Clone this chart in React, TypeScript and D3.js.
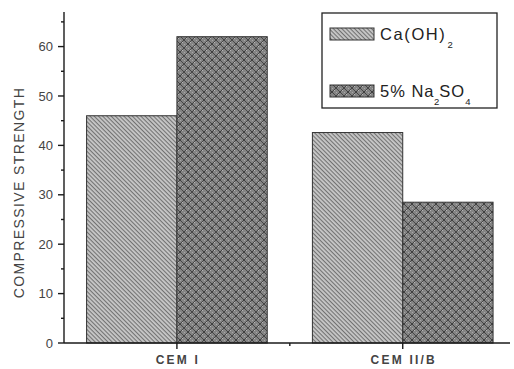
import React from "react";
import * as d3 from "d3";

// Cement types on the x axis
const categories = ["CEM I", "CEM II/B"];
// Compressive strength per series
const caOH2Values = [46, 42.6];
const na2so4Values = [62, 28.5];
// Y axis ticks
const yMajorTicks = [0, 10, 20, 30, 40, 50, 60];
const yMinorTicks = [5, 15, 25, 35, 45, 55, 65];

const W = 514;
const H = 369;

export default function App() {
  const y = d3.scaleLinear().domain([0, 67]).range([343, 12]);
  const x = d3.scaleLinear().domain([0.5, 2.475]).range([64, 510]);
  const barW = 0.4;
  const font = "'Liberation Sans', Arial, sans-serif";
  const textColor = "#444";

  return (
    <svg
      width={W}
      height={H}
      style={{ position: "absolute", left: 0, top: 0, background: "#fff" }}
    >
      <defs>
        <pattern
          id="hatch"
          width="3"
          height="3"
          patternUnits="userSpaceOnUse"
          patternTransform="rotate(45)"
        >
          <rect width="3" height="3" fill="#c8c8c8" />
          <rect width="3" height="1.1" fill="#727272" />
        </pattern>
        <pattern id="cross" width="8" height="8" patternUnits="userSpaceOnUse">
          <rect width="8" height="8" fill="#848484" />
          <rect x="0" y="0" width="1" height="1" fill="#b8b8b8" />
          <rect x="2" y="2" width="1" height="1" fill="#b8b8b8" />
          <rect x="4" y="4" width="1" height="1" fill="#b8b8b8" />
          <rect x="6" y="6" width="1" height="1" fill="#b8b8b8" />
          <rect x="2" y="6" width="1" height="1" fill="#b8b8b8" />
          <rect x="6" y="2" width="1" height="1" fill="#b8b8b8" />
          <path d="M0,0L8,8M8,0L0,8" stroke="#474747" strokeWidth="1" />
          <rect x="3.5" y="3.5" width="1" height="1" fill="#2a2a2a" />
          <rect x="0" y="4" width="1" height="1" fill="#a8a8a8" />
          <rect x="4" y="0" width="1" height="1" fill="#a8a8a8" />
        </pattern>
      </defs>

      {/* Bars */}
      {categories.map((c, i) => {
        const cx = i + 1;
        return (
          <g key={c}>
            <rect
              x={x(cx - barW)}
              y={y(caOH2Values[i])}
              width={x(cx) - x(cx - barW)}
              height={y(0) - y(caOH2Values[i])}
              fill="url(#hatch)"
              stroke="#333"
              strokeWidth={1}
            />
            <rect
              x={x(cx)}
              y={y(na2so4Values[i])}
              width={x(cx + barW) - x(cx)}
              height={y(0) - y(na2so4Values[i])}
              fill="url(#cross)"
              stroke="#333"
              strokeWidth={1}
            />
          </g>
        );
      })}

      {/* Y axis */}
      <line x1={x(0.5)} x2={x(0.5)} y1={y(0)} y2={y(67)} stroke="#1a1a1a" strokeWidth={1.4} />
      {yMajorTicks.map((t) => (
        <g key={t}>
          <line x1={x(0.5) - 6} x2={x(0.5)} y1={y(t)} y2={y(t)} stroke="#1a1a1a" strokeWidth={1.4} />
          <text
            x={x(0.5) - 11}
            y={y(t)}
            dy="0.35em"
            textAnchor="end"
            fontFamily={font}
            fontSize={13}
            fill={textColor}
          >
            {t}
          </text>
        </g>
      ))}
      {yMinorTicks.map((t) => (
        <line key={t} x1={x(0.5) - 3} x2={x(0.5)} y1={y(t)} y2={y(t)} stroke="#1a1a1a" strokeWidth={1.4} />
      ))}
      <text
        transform={`translate(24,${(y(0) + y(67)) / 2 + 15}) rotate(-90)`}
        textAnchor="middle"
        fontFamily={font}
        fontSize={14}
        letterSpacing={1.4}
        fill={textColor}
      >
        COMPRESSIVE STRENGTH
      </text>

      {/* X axis */}
      <line x1={x(0.5)} x2={x(2.475)} y1={y(0)} y2={y(0)} stroke="#1a1a1a" strokeWidth={1.4} />
      {categories.map((c, i) => (
        <g key={c}>
          <line x1={x(i + 1)} x2={x(i + 1)} y1={y(0)} y2={y(0) + 6} stroke="#1a1a1a" strokeWidth={1.4} />
          <text
            x={x(i + 1) + 1}
            y={y(0) + 21}
            textAnchor="middle"
            fontFamily={font}
            fontSize={12}
            fontWeight="bold"
            letterSpacing={2.2}
            fill={textColor}
          >
            {c}
          </text>
        </g>
      ))}
      <line x1={x(1.5)} x2={x(1.5)} y1={y(0)} y2={y(0) + 3} stroke="#1a1a1a" strokeWidth={1.4} />

      {/* Legend */}
      <rect x={322} y={13} width={175} height={95} fill="#fff" stroke="#222" strokeWidth={1.3} />
      <rect x={330} y={28} width={44} height={12} fill="url(#hatch)" stroke="#333" strokeWidth={1} />
      <text x={380} y={40} fontFamily={font} fontSize={16.5} fill="#222">
        <tspan letterSpacing={1.6}>Ca(OH)</tspan>
        <tspan fontSize={9.5} dy={8} dx={1}>2</tspan>
      </text>
      <rect x={330} y={85} width={44} height={12} fill="url(#cross)" stroke="#333" strokeWidth={1} />
      <text x={380} y={97} fontFamily={font} fontSize={16.5} fill="#222">
        <tspan letterSpacing={1}>5% Na</tspan>
        <tspan fontSize={9.5} dy={8} dx={-0.5}>2</tspan>
        <tspan dy={-8} letterSpacing={1}>SO</tspan>
        <tspan fontSize={9.5} dy={8}>4</tspan>
      </text>
    </svg>
  );
}
